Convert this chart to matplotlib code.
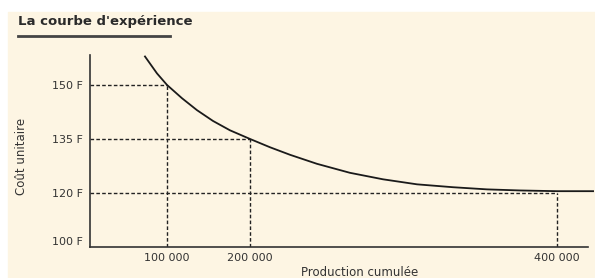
import matplotlib.pyplot as plt
import numpy as np
from matplotlib.lines import Line2D
from matplotlib.patches import Rectangle

# donnees
production = [71400, 87000, 100000, 118100, 136100, 155400, 175900, 200000, 213000, 226100,
              243600, 265100, 286600, 308800, 332200, 354400, 375900, 400000, 423500]
cout = [157.9, 153.2, 150.0, 146.3, 143.0, 140.0, 137.4, 135.0, 132.7, 130.6,
        128.1, 125.6, 123.8, 122.4, 121.6, 121.0, 120.7, 120.5, 120.5]

repere_x = [100000, 200000, 400000]
repere_y = [150, 135, 120]
xticks = [100000, 200000, 400000]
xtick_labels = ['100 000', '200 000', '400 000']
yticks = [100, 120, 135, 150]
ytick_labels = ['100 F', '120 F', '135 F', '150 F']

# echelles non lineaires du dessin original
px_x = [0, 77, 160, 467, 620.5]
val_x = [0, 100000, 200000, 400000, 500000]
px_y = [0, 54, 108, 162, 234]
val_y = [100, 120, 135, 150, 170]

W, H = 595, 278
fig = plt.figure(figsize=(W / 100, H / 100), dpi=100, facecolor='white')
fig.patches.append(Rectangle((8 / W, 0), 1, (H - 12) / H, transform=fig.transFigure,
                             color='#fdf5e3', zorder=-10))

ax = fig.add_axes([90 / W, (H - 247) / H, (595 - 90) / W, (247 - 50) / H])
ax.set_facecolor('none')
ax.set_xscale('function', functions=(lambda v: np.interp(v, val_x, px_x),
                                     lambda p: np.interp(p, px_x, val_x)))
ax.set_yscale('function', functions=(lambda v: np.interp(v, val_y, px_y),
                                     lambda p: np.interp(p, px_y, val_y)))
ax.set_xlim(0, 424750)
ax.set_ylim(100, 159.7)

ax.plot(production, cout, color='#1a1a1a', lw=1.3, zorder=3)

dash = (0, (2.6, 1.6))
for xv, yv in zip(repere_x, repere_y):
    ax.plot([0, xv], [yv, yv], color='#222222', lw=1.0, ls=dash)
    ax.plot([xv, xv], [100, yv], color='#222222', lw=1.0, ls=dash)

for s in ['top', 'right']:
    ax.spines[s].set_visible(False)
ax.spines['left'].set_bounds(100, 158.3)
ax.spines['bottom'].set_bounds(0, 420200)
for s in ['left', 'bottom']:
    ax.spines[s].set_color('#333333')
    ax.spines[s].set_linewidth(1.2)

ax.set_xticks(xticks)
ax.set_xticklabels(xtick_labels)
ax.set_yticks(yticks)
ax.set_yticklabels(ytick_labels)
ax.minorticks_off()
ax.tick_params(axis='both', length=0, labelsize=8, labelcolor='#333333')
ax.tick_params(axis='y', pad=5)
ax.tick_params(axis='x', pad=4)
ax.get_yticklabels()[0].set_verticalalignment('bottom')

fig.text(22 / W, 1 - 156 / H, 'Coût unitaire', rotation=90, fontsize=8.5,
         color='#333333', ha='center', va='center')
fig.text(360 / W, 1 - 266 / H, 'Production cumulée', fontsize=8.5,
         color='#333333', ha='center', va='top')

fig.text(18 / W, 1 - 22 / H, "La courbe d'expérience", fontsize=9.5, fontweight='bold',
         color='#2a2a2a', ha='left', va='center')
fig.add_artist(Line2D([18 / W, 170 / W], [1 - 36 / H, 1 - 36 / H],
                      transform=fig.transFigure, color='#444444', lw=2))

fig.savefig('out.png', dpi=100)
